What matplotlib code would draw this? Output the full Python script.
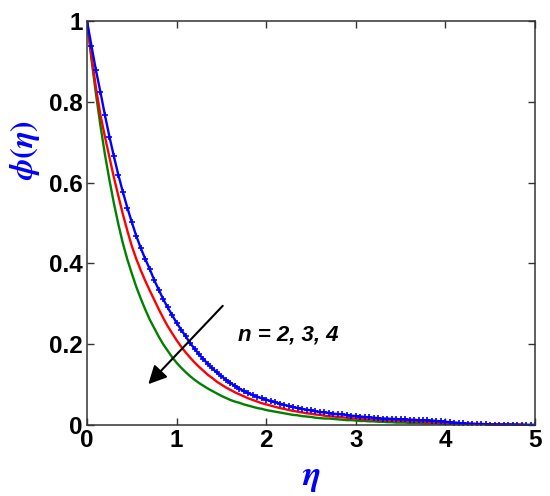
import matplotlib
matplotlib.use("Agg")
import matplotlib.pyplot as plt
import numpy as np

eta = np.round(np.arange(0, 5.0001, 0.05), 2)

phi_n2 = [1.000, 0.938, 0.878, 0.824, 0.767, 0.714, 0.665, 0.619, 0.577, 0.538,
          0.502, 0.468, 0.438, 0.411, 0.386, 0.359, 0.335, 0.312, 0.291, 0.272,
          0.253, 0.236, 0.220, 0.203, 0.189, 0.175, 0.163, 0.151, 0.140, 0.130,
          0.121, 0.112, 0.104, 0.097, 0.090, 0.084, 0.079, 0.074, 0.070, 0.066,
          0.063, 0.059, 0.056, 0.053, 0.050, 0.047, 0.044, 0.042, 0.040, 0.038,
          0.036, 0.034, 0.032, 0.031, 0.030, 0.028, 0.027, 0.026, 0.025, 0.023,
          0.022, 0.021, 0.020, 0.019, 0.018, 0.017, 0.016, 0.016, 0.015, 0.015,
          0.014, 0.014, 0.013, 0.013, 0.012, 0.012, 0.012, 0.011, 0.010, 0.009,
          0.008, 0.007, 0.006, 0.005, 0.004, 0.003, 0.003, 0.002, 0.002, 0.002,
          0.001, 0.001, 0.001, 0.001, 0.001, 0.001, 0.000, 0.000, 0.000, 0.000,
          0.000]

phi_n3 = [1.000, 0.913, 0.835, 0.767, 0.714, 0.663, 0.613, 0.567, 0.522, 0.481,
          0.443, 0.411, 0.383, 0.357, 0.333, 0.310, 0.287, 0.265, 0.245, 0.227,
          0.210, 0.194, 0.180, 0.167, 0.155, 0.144, 0.134, 0.124, 0.116, 0.107,
          0.100, 0.093, 0.087, 0.081, 0.076, 0.071, 0.066, 0.062, 0.058, 0.054,
          0.051, 0.048, 0.045, 0.042, 0.040, 0.037, 0.035, 0.033, 0.031, 0.029,
          0.028, 0.026, 0.025, 0.023, 0.022, 0.021, 0.020, 0.019, 0.018, 0.017,
          0.016, 0.015, 0.014, 0.014, 0.013, 0.013, 0.012, 0.012, 0.011, 0.011,
          0.010, 0.010, 0.009, 0.009, 0.008, 0.008, 0.007, 0.007, 0.007, 0.006,
          0.006, 0.005, 0.005, 0.005, 0.004, 0.004, 0.003, 0.003, 0.003, 0.002,
          0.002, 0.002, 0.002, 0.001, 0.001, 0.001, 0.001, 0.001, 0.000, 0.000,
          0.000]

phi_n4 = [1.000, 0.905, 0.819, 0.741, 0.670, 0.607, 0.549, 0.497, 0.450, 0.410,
          0.375, 0.342, 0.313, 0.286, 0.261, 0.240, 0.219, 0.200, 0.184, 0.168,
          0.154, 0.142, 0.131, 0.121, 0.112, 0.104, 0.097, 0.090, 0.084, 0.078,
          0.072, 0.067, 0.062, 0.058, 0.055, 0.051, 0.048, 0.045, 0.042, 0.040,
          0.037, 0.035, 0.033, 0.031, 0.029, 0.027, 0.025, 0.024, 0.022, 0.021,
          0.020, 0.018, 0.017, 0.016, 0.016, 0.015, 0.014, 0.013, 0.012, 0.012,
          0.011, 0.010, 0.010, 0.009, 0.009, 0.008, 0.008, 0.007, 0.007, 0.006,
          0.006, 0.006, 0.005, 0.005, 0.005, 0.004, 0.004, 0.004, 0.004, 0.003,
          0.003, 0.003, 0.003, 0.003, 0.002, 0.002, 0.002, 0.002, 0.002, 0.002,
          0.001, 0.001, 0.001, 0.001, 0.001, 0.001, 0.001, 0.001, 0.000, 0.000,
          0.000]

xticks = [0, 1, 2, 3, 4, 5]
yticks = [0, 0.2, 0.4, 0.6, 0.8, 1]
ytick_labels = ["0", "0.2", "0.4", "0.6", "0.8", "1"]
annotation = "n = 2, 3, 4"

plt.rcParams['font.family'] = ['Liberation Sans', 'DejaVu Sans']
plt.rcParams['mathtext.fontset'] = 'stix'

fig = plt.figure(figsize=(5.5, 4.96), dpi=100)
ax = fig.add_axes([87/550, 1 - 425/496, 448/550, 404/496])

ax.plot(eta, phi_n4, color='#008000', lw=1.7)
ax.plot(eta, phi_n3, color='#ff0000', lw=1.7)
ax.plot(eta, phi_n2, color='#0000ff', lw=1.7, marker='+', ms=4, mew=1.2)

ax.set_xlim(0, 5)
ax.set_ylim(0, 1)
ax.set_xticks(xticks)
ax.set_xticklabels([str(t) for t in xticks])
ax.set_yticks(yticks)
ax.set_yticklabels(ytick_labels)
ax.tick_params(direction='in', length=5, width=1, top=True, right=True,
               labelsize=17.5, pad=3, color='#333333')
for lab in ax.get_xticklabels() + ax.get_yticklabels():
    lab.set_fontweight('bold')
for sp in ax.spines.values():
    sp.set_color('#333333')
    sp.set_linewidth(1.1)

ax.set_xlabel(r'$\boldsymbol{\eta}$', color='#0000ff', fontsize=25)
ax.xaxis.set_label_coords(0.50, -0.09)
ax.set_ylabel(r'$\boldsymbol{\phi(\eta)}$', color='#0000ff', fontsize=23)
ax.yaxis.set_label_coords(-0.10, 0.68)

ax.annotate('', xy=(0.684, 0.101), xytext=(1.515, 0.295),
            arrowprops=dict(arrowstyle='-|>,head_length=1.1,head_width=0.55',
                            color='black', lw=1.5, shrinkA=0, shrinkB=0))
ax.text(1.69, 0.223, annotation, fontsize=16, fontweight='bold',
        fontstyle='italic', va='center', ha='left')

fig.savefig('out.png', dpi=100)
